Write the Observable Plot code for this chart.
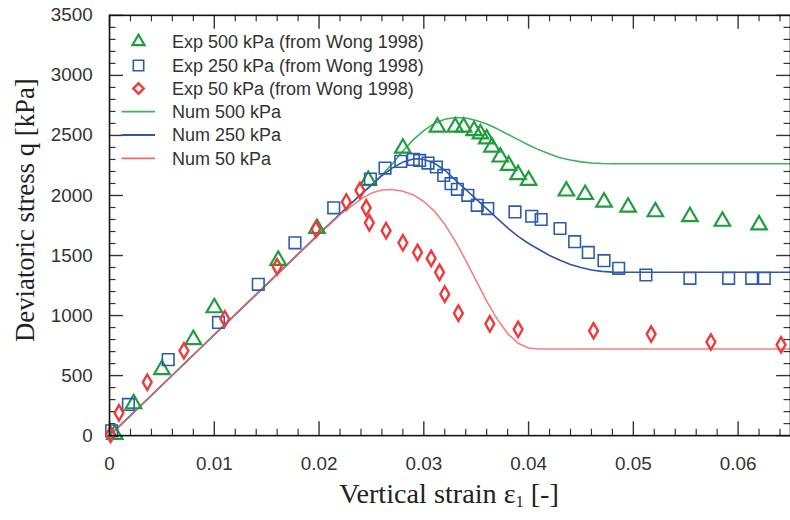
<!DOCTYPE html>
<html><head><meta charset="utf-8">
<script src="https://cdn.jsdelivr.net/npm/d3@7"></script>
<script src="https://cdn.jsdelivr.net/npm/@observablehq/plot@0.6"></script>
<style>
html,body{margin:0;padding:0;background:#fff;overflow:hidden;}
#wrap{position:relative;width:790px;height:520px;overflow:hidden;}
#wrap svg.leg{position:absolute;left:0;top:0;pointer-events:none;}
</style></head><body><div id="wrap"></div>
<script>
// ---- data ----
const exp500Strain = [0.0005,0.0023,0.0050,0.0080,0.0100,0.0161,0.0198,0.0247,0.0280,0.0313,0.0330,0.0338,0.0348,0.0354,0.0360,0.0365,0.0373,0.0381,0.0390,0.0400,0.0436,0.0454,0.0472,0.0495,0.0521,0.0554,0.0585,0.0620];
const exp500Stress = [10,265,550,800,1065,1460,1725,2125,2394,2569,2569,2569,2540,2513,2471,2403,2320,2250,2173,2126,2037,2008,1945,1903,1864,1823,1785,1755];

const exp250Strain = [0.0002,0.0018,0.0056,0.0104,0.0142,0.0177,0.0214,0.0249,0.0263,0.0278,0.0290,0.0296,0.0304,0.0312,0.0319,0.0326,0.0332,0.0342,0.0351,0.0361,0.0387,0.0403,0.0412,0.0430,0.0444,0.0457,0.0472,0.0486,0.0512,0.0554,0.0591,0.0613,0.0625];
const exp250Stress = [40,260,633,943,1260,1606,1897,2137,2228,2284,2300,2292,2270,2237,2167,2098,2051,2001,1918,1891,1863,1827,1800,1725,1615,1526,1457,1393,1338,1310,1310,1310,1310];

const exp50Strain = [0.0001,0.0009,0.0036,0.0071,0.0110,0.0160,0.0197,0.0226,0.0239,0.0245,0.0248,0.0264,0.0280,0.0294,0.0307,0.0315,0.0320,0.0333,0.0363,0.0390,0.0462,0.0517,0.0574,0.0641];
const exp50Stress = [10,190,445,707,973,1407,1720,1946,2043,1897,1772,1707,1606,1526,1476,1360,1178,1020,931,885,873,846,780,757];

const num500Strain = [0,0.005,0.010,0.015,0.020,0.024,0.026,0.027,0.028,0.029,0.030,0.031,0.032,0.033,0.034,0.035,0.036,0.037,0.038,0.039,0.040,0.041,0.042,0.043,0.044,0.045,0.046,0.047,0.048,0.065];
const num500Stress = [0,420,840,1260,1680,2010,2170,2265,2370,2465,2540,2600,2635,2650,2645,2625,2595,2555,2510,2465,2420,2380,2345,2315,2295,2280,2270,2266,2264,2264];

const num250Strain = [0,0.005,0.010,0.015,0.020,0.024,0.025,0.026,0.027,0.028,0.029,0.0295,0.030,0.031,0.032,0.033,0.034,0.035,0.036,0.037,0.038,0.039,0.040,0.041,0.042,0.043,0.044,0.045,0.046,0.047,0.048,0.050,0.065];
const num250Stress = [0,420,840,1260,1680,2010,2085,2165,2230,2278,2303,2306,2300,2270,2210,2130,2050,1970,1890,1810,1730,1660,1600,1550,1500,1460,1425,1400,1380,1368,1362,1360,1360];

const num50Strain = [0,0.005,0.010,0.015,0.020,0.022,0.024,0.025,0.026,0.027,0.028,0.029,0.030,0.031,0.032,0.033,0.034,0.035,0.036,0.037,0.038,0.039,0.040,0.041,0.065];
const num50Stress = [0,420,840,1260,1680,1840,1970,2020,2045,2050,2035,2005,1950,1870,1760,1620,1460,1290,1120,970,850,770,730,722,722];

const xTicks = [0,0.01,0.02,0.03,0.04,0.05,0.06];
const yTicks = [0,500,1000,1500,2000,2500,3000,3500];
const xLabels = ["0","0.01","0.02","0.03","0.04","0.05","0.06"];
const yLabels = ["0","500","1000","1500","2000","2500","3000","3500"];

const legendLabels = ["Exp 500 kPa (from Wong 1998)","Exp 250 kPa (from Wong 1998)","Exp 50 kPa (from Wong 1998)","Num 500 kPa","Num 250 kPa","Num 50 kPa"];

// ---- styles ----
const C = {g:"#1f9e3c", b:"#2b5cb0", r:"#ee3a3a", gl:"#3cb35c", bl:"#3454a4", rl:"#f06a6a"};
const zip = (xs, ys) => xs.map((x,i)=>({x, y: ys[i]}));

const W = 797, H = 520, mL = 110, mR = 0, mT = 15, mB = 81;
const pw = W - mL - mR, ph = H - mT - mB;
const xMinor = d3.range(0, 0.0651, 0.002).filter(v => Math.abs(v*100 - Math.round(v*100)) > 1e-6);
const yMinor = d3.range(0, 3501, 100).filter(v => v % 500 !== 0);
const MAJ = 14, MIN = 6.5;

const tickStroke = "#333";
const plot = Plot.plot({
  width: W, height: H,
  marginLeft: mL, marginRight: mR, marginTop: mT, marginBottom: mB,
  x: {domain: [0, 0.065], axis: null},
  y: {domain: [0, 3500], axis: null},
  style: {fontFamily: "'Liberation Sans', Arial, sans-serif", fontSize: "19px", background: "#fff", color: "#333", overflow: "visible"},
  marks: [
    // inward ticks on all four sides
    Plot.tickX(xTicks, {x: d => d, insetTop: ph - MAJ, stroke: tickStroke, strokeWidth: 1.4}),
    Plot.tickX(xMinor, {x: d => d, insetTop: ph - MIN, stroke: tickStroke, strokeWidth: 1.2}),
    Plot.tickX(xTicks, {x: d => d, insetBottom: ph - MAJ, stroke: tickStroke, strokeWidth: 1.4}),
    Plot.tickX(xMinor, {x: d => d, insetBottom: ph - MIN, stroke: tickStroke, strokeWidth: 1.2}),
    Plot.tickY(yTicks, {y: d => d, insetRight: pw - MAJ, stroke: tickStroke, strokeWidth: 1.4}),
    Plot.tickY(yMinor, {y: d => d, insetRight: pw - MIN, stroke: tickStroke, strokeWidth: 1.2}),
    Plot.tickY(yTicks, {y: d => d, insetLeft: pw - MAJ, stroke: tickStroke, strokeWidth: 1.4}),
    Plot.tickY(yMinor, {y: d => d, insetLeft: pw - MIN, stroke: tickStroke, strokeWidth: 1.2}),
    Plot.axisY(yTicks, {anchor: "left", tickSize: 0, tickPadding: 17, label: null, tickFormat: (d) => yLabels[yTicks.indexOf(d)], fill: "#333", style: {letterSpacing: "0.6px"}}),
    Plot.axisX(xTicks, {anchor: "bottom", tickSize: 0, tickPadding: 21, label: null, tickFormat: (d) => xLabels[xTicks.indexOf(d)], fill: "#333"}),
    // numerical curves
    Plot.line(zip(num500Strain, num500Stress), {x: "x", y: "y", stroke: C.gl, strokeWidth: 1.6}),
    Plot.line(zip(num250Strain, num250Stress), {x: "x", y: "y", stroke: C.bl, strokeWidth: 1.6}),
    Plot.line(zip(num50Strain, num50Stress), {x: "x", y: "y", stroke: C.rl, strokeWidth: 1.6, strokeOpacity: 0.85}),
    // experimental points
    Plot.dot(zip(exp500Strain, exp500Stress), {x: "x", y: "y", symbol: "triangle", r: 5.8, stroke: C.g, strokeWidth: 2.2, fill: "none"}),
    Plot.dot(zip(exp250Strain, exp250Stress), {x: "x", y: "y", symbol: "square", r: 6.6, stroke: C.b, strokeWidth: 1.6, fill: "none"}),
    Plot.dot(zip(exp50Strain, exp50Stress), {x: "x", y: "y", symbol: "diamond", r: 4.7, stroke: C.r, strokeWidth: 2.4, fill: "none"}),
    Plot.frame({stroke: "#111", strokeWidth: 1.6})
  ]
});

const wrap = document.getElementById("wrap");
wrap.appendChild(plot);

// axis titles (real text)
const svg = d3.select(plot);
svg.append("text")
  .attr("transform", "translate(28,212) rotate(-90)")
  .attr("text-anchor", "middle").attr("dominant-baseline", "middle")
  .style("font-family", "'Liberation Serif', 'Times New Roman', serif").style("font-size", "27px").attr("fill", "#222")
  .text("Deviatoric stress q [kPa]");
const xt = svg.append("text")
  .attr("x", 453).attr("y", 507)
  .attr("text-anchor", "middle")
  .style("font-family", "'Liberation Serif', 'Times New Roman', serif").style("font-size", "28.5px").attr("fill", "#222");
xt.append("tspan").text("Vertical strain ε");
xt.append("tspan").attr("dy", 5).style("font-size", "16px").text("1");
xt.append("tspan").attr("dy", -5).text(" [-]");

// legend inside the plot frame
const leg = d3.select(wrap).append("svg").attr("class", "leg").attr("width", 460).attr("height", 180);
const rows = [41.7, 65.5, 88.5, 111.7, 135, 158.3];
const symX = 138.5;
const symDefs = [
  {type: d3.symbolTriangle2, r: 5.8, c: C.g, w: 2.2},
  {type: d3.symbolSquare2, r: 6.6, c: C.b, w: 1.6},
  {type: d3.symbolDiamond2, r: 4.7, c: C.r, w: 2.4}
];
symDefs.forEach((s, i) => {
  leg.append("path").attr("transform", `translate(${symX},${rows[i]})`)
    .attr("d", d3.symbol(s.type, Math.PI * s.r * s.r)())
    .attr("fill", "none").attr("stroke", s.c).attr("stroke-width", s.w);
});
[C.gl, C.bl, C.rl].forEach((c, i) => {
  leg.append("line").attr("x1", 121.5).attr("x2", 155).attr("y1", rows[3 + i]).attr("y2", rows[3 + i])
    .attr("stroke", c).attr("stroke-width", 1.8);
});
legendLabels.forEach((t, i) => {
  leg.append("text").attr("x", 172).attr("y", rows[i]).attr("dy", "0.36em")
    .style("font-family", "'Liberation Sans', Arial, sans-serif").style("font-size", "18px").attr("fill", "#333")
    .text(t);
});
</script></body></html>
